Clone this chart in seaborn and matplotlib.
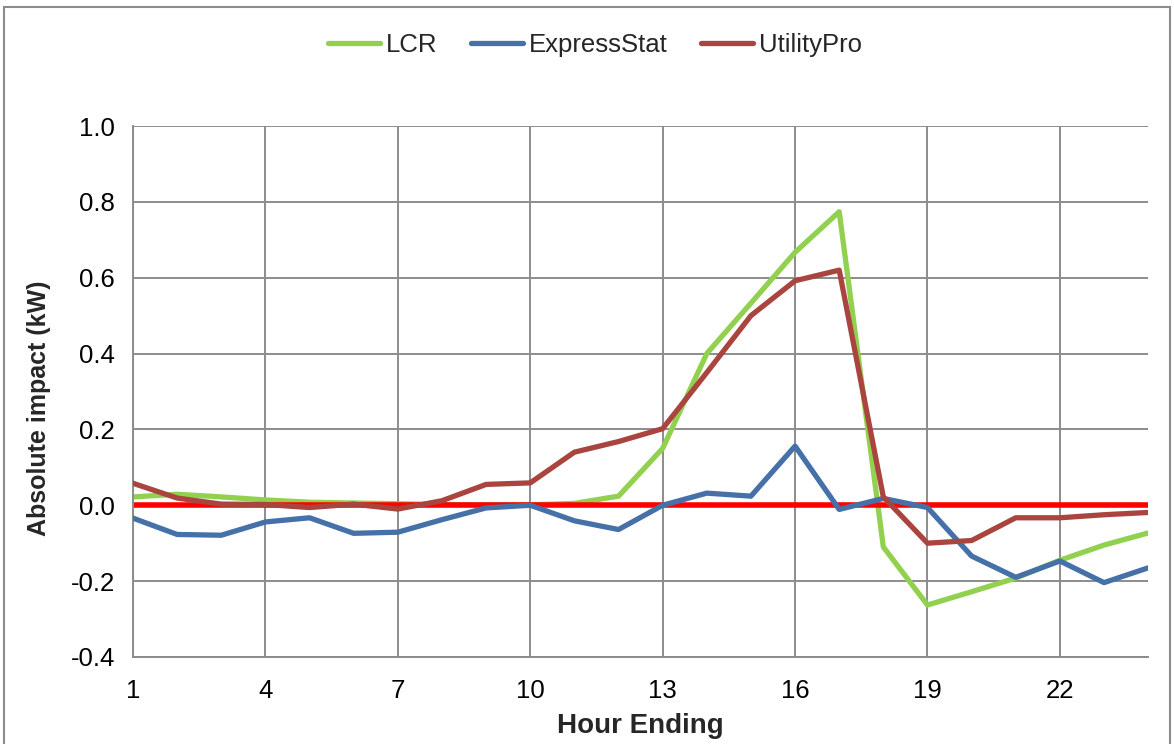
#! /usr/bin/env python3
import numpy as np
import pandas as pd
import matplotlib
matplotlib.use("Agg")
import matplotlib.pyplot as plt
import seaborn as sns
from matplotlib.patches import Rectangle

hours = list(range(1, 25))
lcr = [0.022, 0.029, 0.022, 0.014, 0.008, 0.006, 0.004, 0.002, 0.001, 0.001, 0.005, 0.024,
       0.150, 0.400, 0.533, 0.667, 0.774, -0.110, -0.263, -0.228, -0.192, -0.145, -0.105, -0.073]
express_stat = [-0.034, -0.077, -0.079, -0.044, -0.033, -0.074, -0.071, -0.038, -0.007, 0.000, -0.041, -0.064,
                0.000, 0.032, 0.024, 0.156, -0.011, 0.018, -0.006, -0.134, -0.190, -0.147, -0.204, -0.165]
utility_pro = [0.058, 0.019, 0.003, 0.002, -0.006, 0.003, -0.010, 0.012, 0.055, 0.059, 0.140, 0.168,
               0.202, 0.350, 0.500, 0.592, 0.620, 0.022, -0.100, -0.093, -0.033, -0.033, -0.025, -0.019]
series_names = ["LCR", "ExpressStat", "UtilityPro"]
colors = {"LCR": "#92D050", "ExpressStat": "#4571A8", "UtilityPro": "#A9443F"}
x_ticks = [1, 4, 7, 10, 13, 16, 19, 22]
y_ticks = [-0.4, -0.2, 0.0, 0.2, 0.4, 0.6, 0.8, 1.0]

df = pd.concat([
    pd.DataFrame({"hour": hours, "impact": vals, "series": name})
    for name, vals in zip(series_names, [lcr, express_stat, utility_pro])
])

sns.set_style("white")
plt.rcParams["font.family"] = ["Liberation Sans", "DejaVu Sans"]

fig = plt.figure(figsize=(11.74, 7.44), dpi=100)
ax = fig.add_axes([0.1133, 0.117, 0.978 - 0.1133, 0.8306 - 0.117])

grid_col = "#8C8C8C"
ax.axhline(0, color="#FF0000", lw=4.0, zorder=2.5)

# draw order: LCR under the zero line, the others above it
for name, z in zip(series_names, [2, 3, 4]):
    sns.lineplot(data=df[df.series == name], x="hour", y="impact", color=colors[name],
                 lw=3.8, ax=ax, zorder=z, label=name)

ax.set_xlim(1, 24)
ax.set_ylim(-0.4, 1.0)
ax.set_xticks(x_ticks)
ax.set_yticks(y_ticks)
ax.set_yticklabels([f"{v:.1f}" for v in y_ticks])
ax.grid(True, color=grid_col, lw=1.4)
ax.set_axisbelow(True)
for s in ["top", "right"]:
    ax.spines[s].set_visible(False)
for s in ["left", "bottom"]:
    ax.spines[s].set_color(grid_col)
    ax.spines[s].set_linewidth(1.4)
ax.tick_params(axis="both", labelsize=18.5, colors="black", length=0)
ax.tick_params(axis="x", pad=16)
ax.tick_params(axis="y", length=7, color=grid_col, width=1.4, direction="out", pad=6)

ax.set_xlabel("Hour Ending", fontsize=20, fontweight="bold", labelpad=7)
ax.set_ylabel("Absolute impact (kW)", fontsize=18, fontweight="bold")
ax.yaxis.set_label_coords(-0.081, 0.468)

ax.legend(loc="center", bbox_to_anchor=(0.507, 0.9395), bbox_transform=fig.transFigure,
          ncol=3, frameon=False, fontsize=18.5, handlelength=2.0, handletextpad=0.25,
          columnspacing=1.3)

fig.patches.append(Rectangle((0.003, -0.01), 0.994, 1.0, transform=fig.transFigure,
                             fill=False, edgecolor="#8C8C8C", lw=1.5))

fig.savefig("out.png", dpi=100)
